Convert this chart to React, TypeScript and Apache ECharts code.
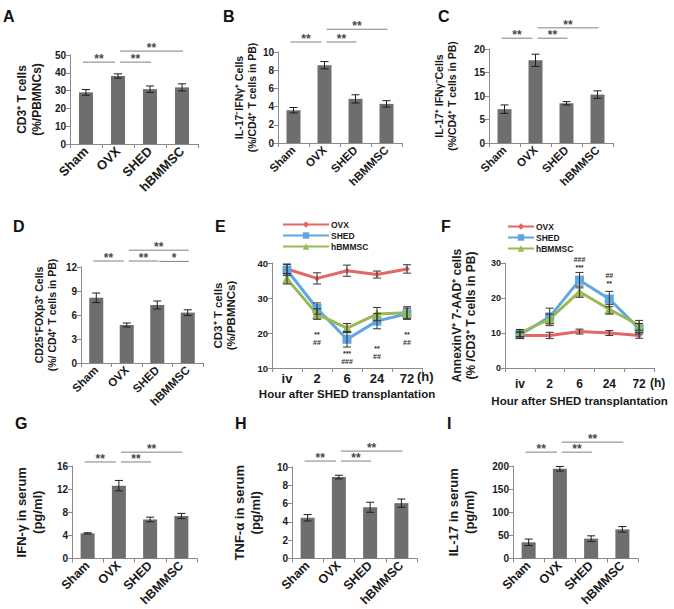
import React, { useEffect, useRef } from "react";
import * as echarts from "echarts";

const FONT = "'Liberation Sans', Arial, Helvetica, sans-serif";

// ---- categories ----
const groups = ["Sham", "OVX", "SHED", "hBMMSC"];
const hours = ["iv", "2", "6", "24", "72"];
const lineNames = ["OVX", "SHED", "hBMMSC"];

// ---- A: CD3+ T cells (%/PBMNCs) ----
const cd3Mean = [29, 38.2, 30.8, 31.8];
const cd3Err = [1.6, 1.2, 1.8, 2.0];
const sigA = [[0, 1, 46], [1, 2, 46], [1, 3, 52.2]];
const sigALabels = ["**", "**", "**"];

// ---- B: IL-17- IFNg+ ----
const th1Mean = [3.6, 8.55, 4.85, 4.3];
const th1Err = [0.3, 0.4, 0.45, 0.35];
const sigB = [[0, 1, 11.1], [1, 2, 11.1], [1, 3, 12.5]];
const sigBLabels = ["**", "**", "**"];

// ---- C: IL-17+ IFNg- ----
const th17Mean = [7.2, 17.6, 8.45, 10.3];
const th17Err = [0.9, 1.3, 0.35, 0.8];
const sigC = [[0, 1, 22.3], [1, 2, 22.3], [1, 3, 24.5]];
const sigCLabels = ["**", "**", "**"];

// ---- D: CD25+FOXp3+ ----
const tregMean = [8.15, 4.75, 7.25, 6.3];
const tregErr = [0.6, 0.25, 0.5, 0.35];
const sigD = [[0, 1, 12.75], [1, 2, 12.75], [2, 3, 12.7], [1, 3, 14.1]];
const sigDLabels = ["**", "**", "*", "**"];

// ---- E: CD3+ T cells over time ----
const eOVX = [38.3, 35.6, 37.8, 36.7, 38.3];
const eOVXErr = [1.4, 1.6, 1.6, 1.0, 1.2];
const eSHED = [38, 27, 18.2, 23.4, 25.5];
const eSHEDErr = [1.6, 1.6, 2.2, 2.2, 1.6];
const eBM = [35.5, 25.4, 21.4, 25.4, 25.8];
const eBMErr = [1.5, 1.5, 1.3, 1.9, 1.7];
const eMarks = [[1, 19.6], [1, 17.4], [2, 14.2], [2, 12.0], [3, 15.5], [3, 13.2], [4, 19.6], [4, 17.4]];
const eMarkLabels = ["**", "##", "***", "###", "**", "##", "**", "##"];

// ---- F: AnnexinV+ 7-AAD+ cells over time ----
const fOVX = [9.3, 9.3, 10.4, 10.0, 9.3];
const fOVXErr = [0.8, 0.9, 0.7, 0.7, 0.8];
const fSHED = [9.5, 14.6, 25.1, 19.7, 11.2];
const fSHEDErr = [1.0, 2.5, 2.2, 2.2, 1.5];
const fBM = [10.0, 14.0, 21.8, 16.8, 12.2];
const fBMErr = [1.0, 1.4, 1.6, 1.4, 1.4];
const fMarks = [[2, 31.0], [2, 28.8], [3, 26.3], [3, 24.1]];
const fMarkLabels = ["###", "***", "##", "**"];

// ---- G: IFN-g in serum ----
const ifnMean = [4.35, 12.6, 6.75, 7.35];
const ifnErr = [0.1, 0.9, 0.4, 0.45];
const sigG = [[0, 1, 16.7], [1, 2, 16.7], [1, 3, 18.4]];
const sigGLabels = ["**", "**", "**"];

// ---- H: TNF-a in serum ----
const tnfMean = [4.45, 8.9, 5.6, 6.05];
const tnfErr = [0.35, 0.2, 0.55, 0.45];
const sigH = [[0, 1, 10.65], [1, 2, 10.65], [1, 3, 11.74]];
const sigHLabels = ["**", "**", "**"];

// ---- I: IL-17 in serum ----
const il17Mean = [35, 194, 43, 63];
const il17Err = [7, 5, 6, 6];
const sigI = [[0, 1, 230], [1, 2, 230], [1, 3, 251.6]];
const sigILabels = ["**", "**", "**"];

const BAR_COLOR = "#6e6e6e";
const AXIS_COLOR = "#8a8a8a";
const TEXT_COLOR = "#1a1a1a";
const MARK_COLOR = "#2a2a2a";
const LINE_COLORS = ["#e36764", "#5ea7e3", "#98b956"];

type BarPanel = {
  letter: string;
  letterPos: [number, number];
  grid: { left: number; top: number; width: number; height: number };
  mean: number[];
  err: number[];
  yMax: number;
  yInterval: number;
  yName: string;
  nameGap: number;
  nameSize: number;
  tickSize: number;
  catSize: number;
  sig: number[][];
  sigLabels: string[];
};

const barPanels: BarPanel[] = [
  { letter: "A", letterPos: [3, 8], grid: { left: 70, top: 55, width: 128, height: 89 }, mean: cd3Mean, err: cd3Err, yMax: 50, yInterval: 10, yName: "CD3⁺ T cells\n(%/PBMNCs)", nameGap: 26, nameSize: 12, tickSize: 10, catSize: 13, sig: sigA, sigLabels: sigALabels },
  { letter: "B", letterPos: [223, 8], grid: { left: 278, top: 52, width: 124, height: 91 }, mean: th1Mean, err: th1Err, yMax: 10, yInterval: 2, yName: "IL-17⁻IFNγ⁺ Cells\n(%/CD4⁺ T cells in PB)", nameGap: 20, nameSize: 10.5, tickSize: 10, catSize: 11.5, sig: sigB, sigLabels: sigBLabels },
  { letter: "C", letterPos: [438, 8], grid: { left: 489, top: 49, width: 124, height: 94 }, mean: th17Mean, err: th17Err, yMax: 20, yInterval: 5, yName: "IL-17⁺ IFNγ⁻Cells\n(%/CD4⁺ T cells in PB)", nameGap: 31, nameSize: 10.5, tickSize: 10, catSize: 11.5, sig: sigC, sigLabels: sigCLabels },
  { letter: "D", letterPos: [13, 218], grid: { left: 81, top: 267, width: 122, height: 96 }, mean: tregMean, err: tregErr, yMax: 12, yInterval: 3, yName: "CD25⁺FOXp3⁺ Cells\n(%/ CD4⁺ T cells in PB)", nameGap: 23, nameSize: 10.5, tickSize: 10, catSize: 11.5, sig: sigD, sigLabels: sigDLabels },
  { letter: "G", letterPos: [15, 415], grid: { left: 72, top: 466, width: 125, height: 93 }, mean: ifnMean, err: ifnErr, yMax: 16, yInterval: 4, yName: "IFN-γ in serum\n(pg/ml)", nameGap: 27, nameSize: 13, tickSize: 10, catSize: 12.5, sig: sigG, sigLabels: sigGLabels },
  { letter: "H", letterPos: [235, 415], grid: { left: 292, top: 467, width: 125, height: 92 }, mean: tnfMean, err: tnfErr, yMax: 10, yInterval: 2, yName: "TNF-α in serum\n(pg/ml)", nameGap: 29, nameSize: 13, tickSize: 10, catSize: 12.5, sig: sigH, sigLabels: sigHLabels },
  { letter: "I", letterPos: [447, 415], grid: { left: 513, top: 466, width: 125, height: 93 }, mean: il17Mean, err: il17Err, yMax: 200, yInterval: 50, yName: "IL-17 in serum\n(pg/ml)", nameGap: 36, nameSize: 13, tickSize: 10, catSize: 12.5, sig: sigI, sigLabels: sigILabels },
];

type LinePanel = {
  letter: string;
  letterPos: [number, number];
  grid: { left: number; top: number; width: number; height: number };
  series: number[][];
  errs: number[][];
  yMin: number;
  yMax: number;
  yName: string;
  nameGap: number;
  nameSize: number;
  tickSize: number;
  catSize: number;
  catMargin: number;
  xNameGap: number;
  marks: number[][];
  markLabels: string[];
  legend: { left: number; top: number; itemWidth: number };
  hPos: [number, number];
};

const linePanels: LinePanel[] = [
  { letter: "E", letterPos: [215, 218], grid: { left: 272, top: 263, width: 150, height: 105 }, series: [eOVX, eSHED, eBM], errs: [eOVXErr, eSHEDErr, eBMErr], yMin: 10, yMax: 40, yName: "CD3⁺ T cells\n(%/PBMNCs)", nameGap: 34, nameSize: 11.5, tickSize: 9.5, catSize: 13, catMargin: 4, xNameGap: 20, marks: eMarks, markLabels: eMarkLabels, legend: { left: 282, top: 220, itemWidth: 46 }, hPos: [417, 378] },
  { letter: "F", letterPos: [441, 218], grid: { left: 505, top: 263, width: 149, height: 105 }, series: [fOVX, fSHED, fBM], errs: [fOVXErr, fSHEDErr, fBMErr], yMin: 0, yMax: 30, yName: "AnnexinV⁺ 7-AAD⁺ cells\n(% /CD3⁺ T cells in PB)", nameGap: 27, nameSize: 12, tickSize: 9, catSize: 12, catMargin: 10, xNameGap: 27, marks: fMarks, markLabels: fMarkLabels, legend: { left: 507, top: 222, itemWidth: 26 }, hPos: [650, 385] },
];

const makeErr = (cap: number, color: string) => (_params: any, api: any) => {
  const x = api.value(0);
  const lo = api.coord([x, api.value(1)]);
  const hi = api.coord([x, api.value(2)]);
  const style = { stroke: color, lineWidth: 1 };
  return {
    type: "group",
    children: [
      { type: "line", shape: { x1: lo[0], y1: lo[1], x2: hi[0], y2: hi[1] }, style },
      { type: "line", shape: { x1: lo[0] - cap, y1: lo[1], x2: lo[0] + cap, y2: lo[1] }, style },
      { type: "line", shape: { x1: hi[0] - cap, y1: hi[1], x2: hi[0] + cap, y2: hi[1] }, style },
    ],
  };
};

const makeSig = (labels: string[]) => (params: any, api: any) => {
  const i = api.value(0);
  const j = api.value(1);
  const y = api.value(2);
  const a = api.coord([i, y]);
  const b = api.coord([j, y]);
  const x1 = a[0] + (i === 0 ? -3 : 2);
  const x2 = b[0] + (j === 1 ? -3 : 1);
  return {
    type: "group",
    children: [
      { type: "line", shape: { x1, y1: a[1], x2, y2: a[1] }, style: { stroke: "#808080", lineWidth: 1 } },
      {
        type: "text",
        x: (x1 + x2) / 2,
        y: a[1] - 3,
        style: { text: labels[params.dataIndex], fill: "#4a4a4a", fontSize: 12, fontWeight: "bold", fontFamily: FONT, align: "center", verticalAlign: "middle" },
      },
    ],
  };
};

const makeMarks = (labels: string[]) => (params: any, api: any) => {
  const p = api.coord([api.value(0), api.value(1)]);
  return {
    type: "text",
    x: p[0],
    y: p[1],
    style: { text: labels[params.dataIndex], fill: MARK_COLOR, fontSize: 7, fontWeight: "bold", fontFamily: FONT, align: "center", verticalAlign: "middle" },
  };
};

function buildOption() {
  const grid: any[] = [];
  const xAxis: any[] = [];
  const yAxis: any[] = [];
  const series: any[] = [];
  const graphic: any[] = [];
  const legend: any[] = [];

  const axisLine = { show: true, lineStyle: { color: AXIS_COLOR, width: 1 } };
  const axisTick = { show: true, length: 4, lineStyle: { color: AXIS_COLOR } };

  const addLetter = (letter: string, pos: [number, number]) => {
    graphic.push({
      type: "text",
      left: pos[0],
      top: pos[1],
      style: { text: letter, fill: "#111", font: `bold 16px ${FONT}` },
    });
  };

  barPanels.forEach((p) => {
    const gi = grid.length;
    grid.push({ ...p.grid, containLabel: false });
    xAxis.push({
      type: "category",
      gridIndex: gi,
      data: groups,
      axisLine,
      axisTick: { ...axisTick, alignWithLabel: false },
      axisLabel: { interval: 0, rotate: 45, margin: 5, fontSize: p.catSize, fontWeight: "bold", color: TEXT_COLOR, fontFamily: FONT },
      splitLine: { show: false },
    });
    yAxis.push({
      type: "value",
      gridIndex: gi,
      min: 0,
      max: p.yMax,
      interval: p.yInterval,
      axisLine,
      axisTick,
      axisLabel: { margin: 4, fontSize: p.tickSize, fontWeight: "bold", color: TEXT_COLOR, fontFamily: FONT },
      splitLine: { show: false },
      name: p.yName,
      nameLocation: "middle",
      nameRotate: 90,
      nameGap: p.nameGap,
      nameTextStyle: { fontSize: p.nameSize, fontWeight: "bold", color: TEXT_COLOR, fontFamily: FONT, lineHeight: p.nameSize * 1.2 },
    });
    series.push({
      type: "bar",
      xAxisIndex: gi,
      yAxisIndex: gi,
      data: p.mean,
      barWidth: 14,
      itemStyle: { color: BAR_COLOR },
      silent: true,
    });
    series.push({
      type: "custom",
      xAxisIndex: gi,
      yAxisIndex: gi,
      renderItem: makeErr(4, "#1e1e1e"),
      data: p.mean.map((m, k) => [k, m - p.err[k], m + p.err[k]]),
      encode: { x: 0, y: [1, 2] },
      itemStyle: { color: "#1e1e1e" },
      z: 5,
      silent: true,
    });
    series.push({
      type: "custom",
      xAxisIndex: gi,
      yAxisIndex: gi,
      renderItem: makeSig(p.sigLabels),
      data: p.sig,
      encode: { x: [0, 1], y: 2 },
      itemStyle: { color: "#4a4a4a" },
      clip: false,
      z: 5,
      silent: true,
    });
    addLetter(p.letter, p.letterPos);
  });

  linePanels.forEach((p) => {
    const gi = grid.length;
    grid.push({ ...p.grid, containLabel: false });
    xAxis.push({
      type: "category",
      gridIndex: gi,
      data: hours,
      boundaryGap: true,
      axisLine,
      axisTick,
      axisLabel: { interval: 0, margin: p.catMargin, fontSize: p.catSize, fontWeight: "bold", color: TEXT_COLOR, fontFamily: FONT },
      name: "Hour after SHED transplantation",
      nameLocation: "middle",
      nameGap: p.xNameGap,
      nameTextStyle: { fontSize: 11.5, fontWeight: "bold", color: TEXT_COLOR, fontFamily: FONT },
    });
    yAxis.push({
      type: "value",
      gridIndex: gi,
      min: p.yMin,
      max: p.yMax,
      interval: 10,
      axisLine,
      axisTick,
      axisLabel: { margin: 4, fontSize: p.tickSize, fontWeight: "bold", color: TEXT_COLOR, fontFamily: FONT },
      splitLine: { show: false },
      name: p.yName,
      nameLocation: "middle",
      nameRotate: 90,
      nameGap: p.nameGap,
      nameTextStyle: { fontSize: p.nameSize, fontWeight: "bold", color: TEXT_COLOR, fontFamily: FONT, lineHeight: p.nameSize * 1.15 },
    });
    const symbols = ["diamond", "rect", "triangle"];
    const sizes = [6, 9, 10];
    p.series.forEach((vals, k) => {
      series.push({
        type: "line",
        name: lineNames[k],
        xAxisIndex: gi,
        yAxisIndex: gi,
        data: vals,
        symbol: symbols[k],
        symbolSize: sizes[k],
        showSymbol: true,
        lineStyle: { width: 3, color: LINE_COLORS[k] },
        itemStyle: { color: LINE_COLORS[k] },
        z: 2 + k,
        silent: true,
      });
    });
    p.series.forEach((vals, k) => {
      series.push({
        type: "custom",
        xAxisIndex: gi,
        yAxisIndex: gi,
        renderItem: makeErr(4, "#333"),
        data: vals.map((m, q) => [q, m - p.errs[k][q], m + p.errs[k][q]]),
        encode: { x: 0, y: [1, 2] },
        itemStyle: { color: "#333" },
        z: 6,
        silent: true,
      });
    });
    series.push({
      type: "custom",
      xAxisIndex: gi,
      yAxisIndex: gi,
      renderItem: makeMarks(p.markLabels),
      data: p.marks,
      encode: { x: 0, y: 1 },
      itemStyle: { color: MARK_COLOR },
      clip: false,
      z: 7,
      silent: true,
    });
    legend.push({
      left: p.legend.left,
      top: p.legend.top,
      orient: "vertical",
      itemWidth: p.legend.itemWidth,
      itemHeight: 8,
      itemGap: 2,
      padding: 0,
      selectedMode: false,
      data: lineNames,
      textStyle: { fontSize: 8.5, fontWeight: "bold", color: TEXT_COLOR, fontFamily: FONT, padding: [0, 0, 0, -3] },
    });
    graphic.push({
      type: "text",
      left: p.hPos[0],
      top: p.hPos[1] - 8,
      style: { text: "(h)", fill: TEXT_COLOR, font: `bold ${p.catSize}px ${FONT}` },
    });
    addLetter(p.letter, p.letterPos);
  });

  return {
    animation: false,
    backgroundColor: "#ffffff",
    textStyle: { fontFamily: FONT },
    grid,
    xAxis,
    yAxis,
    series,
    legend,
    graphic,
  };
}

export default function App() {
  const ref = useRef<HTMLDivElement>(null);
  useEffect(() => {
    if (!ref.current) return;
    const chart = echarts.init(ref.current, null, { renderer: "svg" });
    chart.setOption(buildOption());
    return () => chart.dispose();
  }, []);
  return (
    <div
      ref={ref}
      style={{ position: "fixed", left: 0, top: 0, width: 674, height: 609, background: "#fff" }}
    />
  );
}
